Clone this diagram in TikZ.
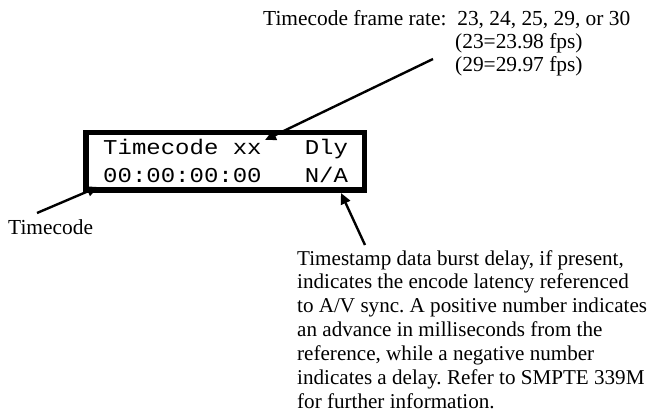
\documentclass[tikz,border=0pt]{standalone}
\usepackage{fontspec}
\usepackage{graphicx}
\setmainfont{Liberation Serif}
\setmonofont{Liberation Mono}
\usetikzlibrary{arrows.meta}
\frenchspacing
\begin{document}
\begin{tikzpicture}[x=1pt,y=-1pt,
  lcdbox/.style={draw, line width=5.5pt, rectangle, inner sep=0pt, minimum width=278.5pt, minimum height=57.5pt},
  mono/.style={font=\fontsize{24}{28}\ttfamily, inner sep=0pt, anchor=base west},
  lbl/.style={font=\fontsize{21.4}{23.9}\selectfont, inner sep=0pt, anchor=base west, align=left},
  arr/.style={line width=2.4pt, -{Triangle[length=11pt,width=10pt]}}]
\useasboundingbox (0,0) rectangle (651,414);
\node[lcdbox] (lcd) at (225,161.5) {};
\node[mono] (row1) at (103,155) {\scalebox{1}[0.88]{Timecode xx~~~Dly}};
\node[mono] (row2) at (103,183) {\scalebox{1}[0.88]{00:00:00:00~~~N/A}};
\node[lbl] (rate) at (263,26) {Timecode frame rate:~~23, 24, 25, 29, or 30};
\node[lbl] (fps1) at (455,49) {(23=23.98 fps)};
\node[lbl] (fps2) at (455,72) {(29=29.97 fps)};
\node[lbl] (tc) at (8,235) {Timecode};
\node[lbl, font=\fontsize{21.1}{23.9}\selectfont] (dly) at (297,408.4) {Timestamp data burst delay, if present,\\
indicates the encode latency referenced\\
to A/V sync. A positive number indicates\\
an advance in milliseconds from the\\
reference, while a negative number\\
indicates a delay. Refer to SMPTE 339M\\
for further information.};
\coordinate (a1s) at (433,59);
\coordinate (a1e) at (265,140);
\coordinate (a2s) at (37,213);
\coordinate (a2e) at (98,187);
\coordinate (a3s) at (365,245);
\coordinate (a3e) at (341,193);
\draw[arr] (a1s) -- (a1e);
\draw[arr] (a2s) -- (a2e);
\draw[arr] (a3s) -- (a3e);
\end{tikzpicture}
\end{document}
